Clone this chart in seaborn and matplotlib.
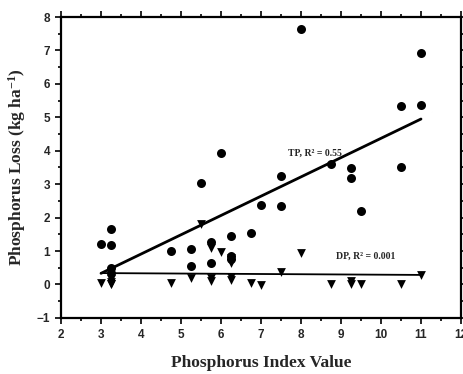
import pandas as pd
import seaborn as sns
import matplotlib.pyplot as plt
from matplotlib.ticker import MultipleLocator

# === Data ===
tp_index = [3.0, 3.25, 3.25, 3.25, 3.25, 4.75, 5.25, 5.25, 5.5, 5.75, 5.75, 6.0, 6.25, 6.25,
            6.25, 6.75, 7.0, 7.5, 7.5, 8.0, 8.75, 9.25, 9.25, 9.5, 10.5, 10.5, 11.0, 11.0]
tp_loss = [1.2, 1.65, 1.17, 0.48, 0.35, 1.0, 1.07, 0.55, 3.05, 1.28, 0.63, 3.92, 1.45, 0.85,
           0.75, 1.55, 2.38, 2.35, 3.25, 7.63, 3.6, 3.47, 3.18, 2.2, 5.35, 3.52, 6.93, 5.38]

dp_index = [3.0, 3.25, 3.25, 3.25, 3.25, 4.75, 5.25, 5.5, 5.75, 5.75, 5.75, 6.0, 6.25, 6.25,
            6.25, 6.25, 6.75, 7.0, 7.5, 8.0, 8.75, 9.25, 9.25, 9.5, 10.5, 11.0]
dp_loss = [0.05, 0.0, 0.02, 0.08, 0.15, 0.03, 0.18, 1.8, 1.08, 0.1, 0.2, 0.97, 0.78, 0.65,
           0.12, 0.22, 0.05, -0.02, 0.37, 0.95, 0.02, 0.1, 0.02, 0.02, 0.02, 0.28]

tp = pd.DataFrame({'index': tp_index, 'loss': tp_loss})
dp = pd.DataFrame({'index': dp_index, 'loss': dp_loss})

# === Style ===
sns.set_style("ticks")
plt.rcParams['font.family'] = ['Liberation Sans', 'DejaVu Sans']
plt.rcParams['mathtext.fontset'] = 'custom'
plt.rcParams['mathtext.rm'] = 'Liberation Serif:bold'
plt.rcParams['mathtext.default'] = 'rm'

fig = plt.figure(figsize=(4.64, 3.74), dpi=100)
ax = fig.add_axes([0.1315, 0.150, 0.862, 0.8045])

sns.regplot(data=tp, x='index', y='loss', ax=ax, ci=None, marker='o', color='black',
            scatter_kws={'s': 42, 'linewidths': 0, 'alpha': 1}, line_kws={'lw': 2.0})
sns.regplot(data=dp, x='index', y='loss', ax=ax, ci=None, marker='v', color='black',
            scatter_kws={'s': 40, 'linewidths': 0, 'alpha': 1}, line_kws={'lw': 1.3})

ax.text(7.67, 3.85, "TP, R² = 0.55", family='Liberation Serif', fontweight='bold', fontsize=7)
ax.text(8.87, 0.78, "DP, R² = 0.001", family='Liberation Serif', fontweight='bold', fontsize=7)

ax.set_xlim(2, 12)
ax.set_ylim(-1, 8)
ax.xaxis.set_major_locator(MultipleLocator(1))
ax.xaxis.set_minor_locator(MultipleLocator(0.5))
ax.yaxis.set_major_locator(MultipleLocator(1))
ax.yaxis.set_minor_locator(MultipleLocator(0.5))

for side in ['left', 'right', 'top', 'bottom']:
    ax.spines[side].set_visible(True)
    ax.spines[side].set_linewidth(1.6)
    ax.spines[side].set_color('black')

ax.tick_params(which='both', direction='out', top=True, right=True, color='black', width=1.2)
ax.tick_params(which='major', length=4, labelsize=8.5, pad=4)
ax.tick_params(which='minor', length=2.5)
for lab in ax.get_xticklabels() + ax.get_yticklabels():
    lab.set_fontweight('bold')

ax.set_xlabel("Phosphorus Index Value", family='Liberation Serif', fontweight='bold',
              fontsize=12.5, labelpad=10)
ax.set_ylabel("Phosphorus Loss (kg ha$^{-1}$)", family='Liberation Serif', fontweight='bold',
              fontsize=12.5, labelpad=6)

fig.savefig("out.png", dpi=100)
